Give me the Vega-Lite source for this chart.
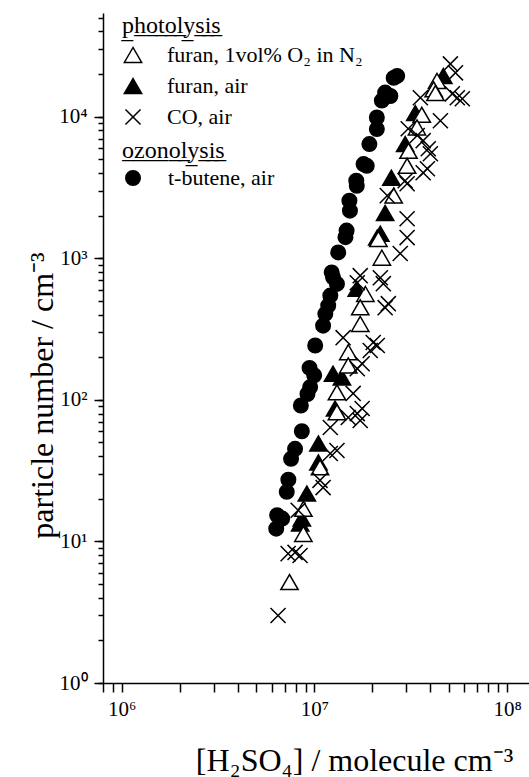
{
  "$schema": "https://vega.github.io/schema/vega-lite/v6.json",
  "width": 426,
  "height": 670,
  "autosize": {"type": "none"},
  "padding": {"left": 103, "top": 13, "right": 0, "bottom": 94},
  "background": "white",
  "config": {
    "view": {"stroke": null},
    "font": "Liberation Serif",
    "axis": {
      "domainColor": "black",
      "domainWidth": 1.5,
      "ticks": true,
      "tickColor": "black",
      "tickWidth": 1.5,
      "tickSize": 9,
      "labelColor": "black",
      "labelFont": "Liberation Serif",
      "labelFontSize": 21,
      "labelOverlap": false,
      "labelFlush": false,
      "titleColor": "black",
      "titleFont": "Liberation Serif",
      "titleFontWeight": "normal",
      "grid": false
    },
    "legend": {
      "orient": "none",
      "legendX": 19,
      "padding": 0,
      "labelFont": "Liberation Serif",
      "labelFontSize": 22,
      "labelColor": "black",
      "labelLimit": 400,
      "labelOffset": 23,
      "rowPadding": 9,
      "symbolStrokeWidth": 1.5,
      "titleFont": "Liberation Serif",
      "titleFontSize": 24,
      "titleFontWeight": "normal",
      "titleColor": "black",
      "titleAnchor": "start",
      "titleLimit": 400,
      "titlePadding": 6
    }
  },
  "data": {
    "values": [
      {"series": "t-butene, air", "x": 6410000, "y": 15.3},
      {"series": "t-butene, air", "x": 6810000, "y": 14.5},
      {"series": "t-butene, air", "x": 6340000, "y": 12.3},
      {"series": "t-butene, air", "x": 7190000, "y": 22.4},
      {"series": "t-butene, air", "x": 7330000, "y": 27.3},
      {"series": "t-butene, air", "x": 7570000, "y": 38.3},
      {"series": "t-butene, air", "x": 7940000, "y": 45.1},
      {"series": "t-butene, air", "x": 8610000, "y": 60},
      {"series": "t-butene, air", "x": 8510000, "y": 91.2},
      {"series": "t-butene, air", "x": 9210000, "y": 110},
      {"series": "t-butene, air", "x": 9510000, "y": 123},
      {"series": "t-butene, air", "x": 9980000, "y": 149},
      {"series": "t-butene, air", "x": 9440000, "y": 168},
      {"series": "t-butene, air", "x": 10100000, "y": 242},
      {"series": "t-butene, air", "x": 11100000, "y": 334},
      {"series": "t-butene, air", "x": 11400000, "y": 405},
      {"series": "t-butene, air", "x": 11800000, "y": 463},
      {"series": "t-butene, air", "x": 12100000, "y": 545},
      {"series": "t-butene, air", "x": 13100000, "y": 659},
      {"series": "t-butene, air", "x": 12500000, "y": 733},
      {"series": "t-butene, air", "x": 12300000, "y": 795},
      {"series": "t-butene, air", "x": 13300000, "y": 1100},
      {"series": "t-butene, air", "x": 14500000, "y": 1410},
      {"series": "t-butene, air", "x": 14700000, "y": 1570},
      {"series": "t-butene, air", "x": 15300000, "y": 2170},
      {"series": "t-butene, air", "x": 15200000, "y": 2550},
      {"series": "t-butene, air", "x": 16600000, "y": 3250},
      {"series": "t-butene, air", "x": 16500000, "y": 3530},
      {"series": "t-butene, air", "x": 18000000, "y": 4630},
      {"series": "t-butene, air", "x": 18700000, "y": 4500},
      {"series": "t-butene, air", "x": 19300000, "y": 6410},
      {"series": "t-butene, air", "x": 21100000, "y": 8170},
      {"series": "t-butene, air", "x": 21100000, "y": 9870},
      {"series": "t-butene, air", "x": 22400000, "y": 13000},
      {"series": "t-butene, air", "x": 23300000, "y": 14800},
      {"series": "t-butene, air", "x": 24800000, "y": 14000},
      {"series": "t-butene, air", "x": 25800000, "y": 18800},
      {"series": "t-butene, air", "x": 26900000, "y": 19400},
      {"series": "furan, air", "x": 46700000, "y": 19400},
      {"series": "furan, air", "x": 33400000, "y": 10600},
      {"series": "furan, air", "x": 29600000, "y": 6410},
      {"series": "furan, air", "x": 25100000, "y": 3710},
      {"series": "furan, air", "x": 23300000, "y": 2090},
      {"series": "furan, air", "x": 22000000, "y": 1490},
      {"series": "furan, air", "x": 21200000, "y": 1400},
      {"series": "furan, air", "x": 16600000, "y": 610},
      {"series": "furan, air", "x": 12500000, "y": 153},
      {"series": "furan, air", "x": 13900000, "y": 144},
      {"series": "furan, air", "x": 12800000, "y": 86.8},
      {"series": "furan, air", "x": 10500000, "y": 49.2},
      {"series": "furan, air", "x": 10500000, "y": 36.1},
      {"series": "furan, air", "x": 9140000, "y": 21.8},
      {"series": "furan, air", "x": 8610000, "y": 14.5},
      {"series": "furan, air", "x": 8440000, "y": 13.4},
      {"series": "furan, 1vol% O₂ in N₂", "x": 43300000, "y": 17900},
      {"series": "furan, 1vol% O₂ in N₂", "x": 41600000, "y": 15600},
      {"series": "furan, 1vol% O₂ in N₂", "x": 42500000, "y": 14700},
      {"series": "furan, 1vol% O₂ in N₂", "x": 36100000, "y": 10300},
      {"series": "furan, 1vol% O₂ in N₂", "x": 34100000, "y": 8390},
      {"series": "furan, 1vol% O₂ in N₂", "x": 30800000, "y": 5740},
      {"series": "furan, 1vol% O₂ in N₂", "x": 30300000, "y": 4500},
      {"series": "furan, 1vol% O₂ in N₂", "x": 25800000, "y": 2770},
      {"series": "furan, 1vol% O₂ in N₂", "x": 21500000, "y": 1370},
      {"series": "furan, 1vol% O₂ in N₂", "x": 22400000, "y": 1010},
      {"series": "furan, 1vol% O₂ in N₂", "x": 18400000, "y": 560},
      {"series": "furan, 1vol% O₂ in N₂", "x": 17300000, "y": 450},
      {"series": "furan, 1vol% O₂ in N₂", "x": 17300000, "y": 344},
      {"series": "furan, 1vol% O₂ in N₂", "x": 15000000, "y": 217},
      {"series": "furan, 1vol% O₂ in N₂", "x": 15000000, "y": 175},
      {"series": "furan, 1vol% O₂ in N₂", "x": 13100000, "y": 113},
      {"series": "furan, 1vol% O₂ in N₂", "x": 13100000, "y": 81.8},
      {"series": "furan, 1vol% O₂ in N₂", "x": 10700000, "y": 33.4},
      {"series": "furan, 1vol% O₂ in N₂", "x": 8770000, "y": 17},
      {"series": "furan, 1vol% O₂ in N₂", "x": 8770000, "y": 11.3},
      {"series": "furan, 1vol% O₂ in N₂", "x": 7430000, "y": 5.16},
      {"series": "CO, air", "x": 50800000, "y": 23600},
      {"series": "CO, air", "x": 54000000, "y": 20400},
      {"series": "CO, air", "x": 52000000, "y": 14500},
      {"series": "CO, air", "x": 55200000, "y": 13600},
      {"series": "CO, air", "x": 58600000, "y": 13400},
      {"series": "CO, air", "x": 35500000, "y": 13600},
      {"series": "CO, air", "x": 45100000, "y": 9360},
      {"series": "CO, air", "x": 30700000, "y": 8220},
      {"series": "CO, air", "x": 39000000, "y": 5940},
      {"series": "CO, air", "x": 40000000, "y": 5470},
      {"series": "CO, air", "x": 38600000, "y": 4290},
      {"series": "CO, air", "x": 29600000, "y": 3530},
      {"series": "CO, air", "x": 34200000, "y": 7360},
      {"series": "CO, air", "x": 36700000, "y": 6770},
      {"series": "CO, air", "x": 36700000, "y": 4020},
      {"series": "CO, air", "x": 30300000, "y": 3360},
      {"series": "CO, air", "x": 23900000, "y": 2770},
      {"series": "CO, air", "x": 30300000, "y": 1900},
      {"series": "CO, air", "x": 30300000, "y": 1400},
      {"series": "CO, air", "x": 27900000, "y": 1080},
      {"series": "CO, air", "x": 17300000, "y": 754},
      {"series": "CO, air", "x": 22000000, "y": 729},
      {"series": "CO, air", "x": 22800000, "y": 662},
      {"series": "CO, air", "x": 24200000, "y": 478},
      {"series": "CO, air", "x": 16700000, "y": 672},
      {"series": "CO, air", "x": 23300000, "y": 448},
      {"series": "CO, air", "x": 14100000, "y": 275},
      {"series": "CO, air", "x": 20200000, "y": 254},
      {"series": "CO, air", "x": 21200000, "y": 242},
      {"series": "CO, air", "x": 19500000, "y": 223},
      {"series": "CO, air", "x": 17700000, "y": 180},
      {"series": "CO, air", "x": 16700000, "y": 166},
      {"series": "CO, air", "x": 15900000, "y": 111},
      {"series": "CO, air", "x": 17700000, "y": 86.8},
      {"series": "CO, air", "x": 16700000, "y": 80},
      {"series": "CO, air", "x": 15000000, "y": 75},
      {"series": "CO, air", "x": 17300000, "y": 71.5},
      {"series": "CO, air", "x": 12100000, "y": 63.8},
      {"series": "CO, air", "x": 13100000, "y": 43.9},
      {"series": "CO, air", "x": 12100000, "y": 41.8},
      {"series": "CO, air", "x": 10700000, "y": 27},
      {"series": "CO, air", "x": 11100000, "y": 24},
      {"series": "CO, air", "x": 8240000, "y": 16.6},
      {"series": "CO, air", "x": 7940000, "y": 8.36},
      {"series": "CO, air", "x": 8430000, "y": 7.96},
      {"series": "CO, air", "x": 7310000, "y": 8.2},
      {"series": "CO, air", "x": 6480000, "y": 3}
    ]
  },
  "layer": [
    {
      "transform": [{"filter": "datum.series != 't-butene, air'"}],
      "mark": {"type": "point", "filled": false, "opacity": 1, "strokeWidth": 1.5, "size": 300},
      "encoding": {
        "x": {
          "field": "x",
          "type": "quantitative",
          "scale": {"type": "log", "domain": [800000, 130000000], "nice": false},
          "axis": {
            "values": [800000, 900000, 1000000, 2000000, 3000000, 4000000, 5000000, 6000000, 7000000, 8000000, 9000000, 10000000, 20000000, 30000000, 40000000, 50000000, 60000000, 70000000, 80000000, 90000000, 100000000],
            "labelExpr": "datum.value == 1000000 ? '10⁶' : datum.value == 10000000 ? '10⁷' : datum.value == 100000000 ? '10⁸' : ''",
            "encode": {
              "ticks": {
                "y2": {"condition": {"test": "indexof([1000000, 10000000, 100000000], datum.value) >= 0", "value": 9}, "value": 4}
              }
            },
            "labelPadding": 6,
            "title": "[H₂SO₄] / molecule cm⁻³",
            "titleFontSize": 32,
            "titleX": 251,
            "titleY": 87,
            "titleBaseline": "alphabetic",
            "titleAlign": "center",
            "titleAnchor": null
          }
        },
        "y": {
          "field": "y",
          "type": "quantitative",
          "scale": {"type": "log", "domain": [1, 54000], "nice": false},
          "axis": {
            "orient": "left",
            "values": [1, 2, 3, 4, 5, 6, 7, 8, 9, 10, 20, 30, 40, 50, 60, 70, 80, 90, 100, 200, 300, 400, 500, 600, 700, 800, 900, 1000, 2000, 3000, 4000, 5000, 6000, 7000, 8000, 9000, 10000, 20000, 30000, 40000, 50000],
            "labelExpr": "datum.value == 1 ? '10⁰' : datum.value == 10 ? '10¹' : datum.value == 100 ? '10²' : datum.value == 1000 ? '10³' : datum.value == 10000 ? '10⁴' : ''",
            "tickSize": 5,
            "encode": {
              "ticks": {
                "x2": {"condition": {"test": "indexof([1, 10, 100, 1000, 10000], datum.value) >= 0", "value": -9}, "value": -5}
              }
            },
            "labelPadding": 11,
            "title": "particle number / cm⁻³",
            "titleFontSize": 32,
            "titleAngle": -90,
            "titleX": -51,
            "titleY": 382,
            "titleBaseline": "alphabetic",
            "titleAlign": "center",
            "titleAnchor": null
          }
        },
        "fill": {
          "field": "series",
          "type": "nominal",
          "scale": {"domain": ["furan, 1vol% O₂ in N₂", "furan, air", "CO, air"], "range": ["white", "black", "transparent"]},
          "legend": {"title": "p\u0332h\u0332o\u0332t\u0332o\u0332l\u0332y\u0332s\u0332i\u0332s\u0332", "legendY": 1, "symbolSize": 300}
        },
        "stroke": {
          "field": "series",
          "type": "nominal",
          "scale": {"domain": ["furan, 1vol% O₂ in N₂", "furan, air", "CO, air"], "range": ["black", "black", "black"]},
          "legend": {"title": "p\u0332h\u0332o\u0332t\u0332o\u0332l\u0332y\u0332s\u0332i\u0332s\u0332", "legendY": 1, "symbolSize": 300}
        },
        "shape": {
          "field": "series",
          "type": "nominal",
          "scale": {"domain": ["furan, 1vol% O₂ in N₂", "furan, air", "CO, air"], "range": ["triangle-up", "triangle-up", "M-0.87,-0.87L0.87,0.87M-0.87,0.87L0.87,-0.87"]},
          "legend": {"title": "p\u0332h\u0332o\u0332t\u0332o\u0332l\u0332y\u0332s\u0332i\u0332s\u0332", "legendY": 1, "symbolSize": 300}
        }
      }
    },
    {
      "transform": [{"filter": "datum.series == 't-butene, air'"}],
      "mark": {"type": "point", "filled": false, "opacity": 1, "strokeWidth": 1.5, "size": 210},
      "encoding": {
        "x": {
          "field": "x",
          "type": "quantitative",
          "scale": {"type": "log", "domain": [800000, 130000000], "nice": false},
          "axis": {
            "values": [800000, 900000, 1000000, 2000000, 3000000, 4000000, 5000000, 6000000, 7000000, 8000000, 9000000, 10000000, 20000000, 30000000, 40000000, 50000000, 60000000, 70000000, 80000000, 90000000, 100000000],
            "labelExpr": "datum.value == 1000000 ? '10⁶' : datum.value == 10000000 ? '10⁷' : datum.value == 100000000 ? '10⁸' : ''",
            "encode": {
              "ticks": {
                "y2": {"condition": {"test": "indexof([1000000, 10000000, 100000000], datum.value) >= 0", "value": 9}, "value": 4}
              }
            },
            "labelPadding": 6,
            "title": "[H₂SO₄] / molecule cm⁻³",
            "titleFontSize": 32,
            "titleX": 251,
            "titleY": 87,
            "titleBaseline": "alphabetic",
            "titleAlign": "center",
            "titleAnchor": null
          }
        },
        "y": {
          "field": "y",
          "type": "quantitative",
          "scale": {"type": "log", "domain": [1, 54000], "nice": false},
          "axis": {
            "orient": "left",
            "values": [1, 10, 100, 1000, 10000],
            "tickSize": 9,
            "encode": {
              "ticks": {
                "x2": {"value": -9}
              }
            },
            "labels": false,
            "domain": false,
            "title": null
          }
        },
        "fill": {
          "field": "series",
          "type": "nominal",
          "scale": {"domain": ["t-butene, air"], "range": ["black"]},
          "legend": {"title": "o\u0332z\u0332o\u0332n\u0332o\u0332l\u0332y\u0332s\u0332i\u0332s\u0332", "legendY": 126, "labelOffset": 24, "titlePadding": 4, "symbolSize": 210}
        },
        "stroke": {
          "field": "series",
          "type": "nominal",
          "scale": {"domain": ["t-butene, air"], "range": ["black"]},
          "legend": {"title": "o\u0332z\u0332o\u0332n\u0332o\u0332l\u0332y\u0332s\u0332i\u0332s\u0332", "legendY": 126, "labelOffset": 24, "titlePadding": 4, "symbolSize": 210}
        },
        "shape": {
          "field": "series",
          "type": "nominal",
          "scale": {"domain": ["t-butene, air"], "range": ["circle"]},
          "legend": {"title": "o\u0332z\u0332o\u0332n\u0332o\u0332l\u0332y\u0332s\u0332i\u0332s\u0332", "legendY": 126, "labelOffset": 24, "titlePadding": 4, "symbolSize": 210}
        }
      }
    }
  ],
  "resolve": {
    "scale": {"fill": "independent", "stroke": "independent", "shape": "independent"},
    "axis": {"y": "independent"}
  }
}
